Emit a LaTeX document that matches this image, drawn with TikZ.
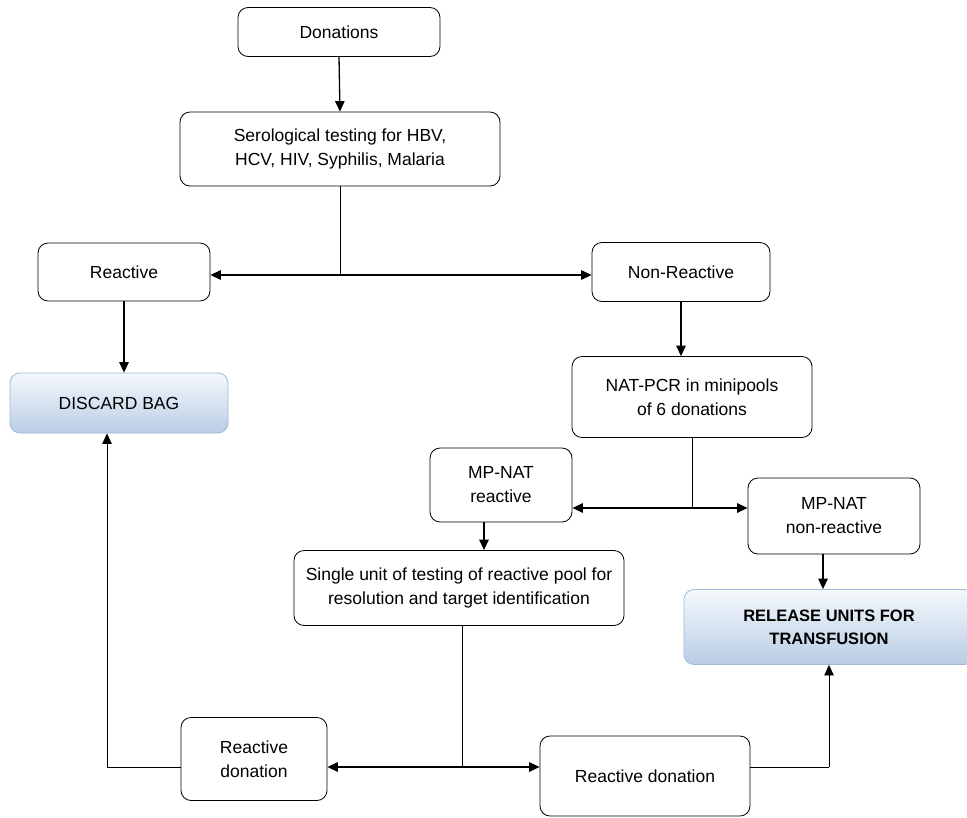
\documentclass[tikz,border=0pt]{standalone}
\usepackage{fontspec}
\setmainfont{Liberation Sans}
\usetikzlibrary{arrows.meta}
\definecolor{gtop}{HTML}{F4F8FC}
\definecolor{gbot}{HTML}{B9CDE5}
\definecolor{gbord}{HTML}{9DB9DB}
\tikzset{
  txt/.style={font=\fontsize{17.5}{24}\selectfont},
  box/.style={draw, rounded corners=10pt, line width=0.8pt, align=center, txt, inner sep=0pt},
  gbox/.style={draw=gbord, rounded corners=10pt, line width=0.8pt, align=center, top color=gtop, bottom color=gbot, txt, inner sep=0pt},
  arr/.style={-{Triangle[length=10.5pt,width=9.5pt]}, line width=1.3pt},
  ln/.style={line width=0.8pt},
}
\begin{document}
\begin{tikzpicture}[x=1pt,y=-1pt]
\useasboundingbox (0,0) rectangle (967,817);
\node[box, minimum width=202pt, minimum height=49pt] (don) at (339,32) {Donations};
\node[box, minimum width=320pt, minimum height=74pt] (ser) at (340,149) {Serological testing for HBV,\\HCV, HIV, Syphilis, Malaria};
\node[box, minimum width=172pt, minimum height=58pt] (rea) at (124,272) {Reactive};
\node[box, minimum width=178pt, minimum height=59pt] (non) at (681,272) {Non-Reactive};
\node[gbox, minimum width=218pt, minimum height=60pt] (dis) at (119,403) {DISCARD BAG};
\node[box, minimum width=240pt, minimum height=81pt] (nat) at (692,397) {NAT-PCR in minipools\\of 6 donations};
\node[box, minimum width=142pt, minimum height=74pt] (mpr) at (501,485) {MP-NAT\\reactive};
\node[box, minimum width=172pt, minimum height=76pt] (mpn) at (834,516) {MP-NAT\\non-reactive};
\node[box, minimum width=330pt, minimum height=75pt] (sin) at (459,588) {Single unit of testing of reactive pool for\\resolution and target identification};
\node[gbox, minimum width=290pt, minimum height=75pt, font=\fontsize{16.5}{23}\selectfont\bfseries] (rel) at (829,627) {RELEASE UNITS FOR\\TRANSFUSION};
\node[box, minimum width=146pt, minimum height=83pt] (rdl) at (254,759) {Reactive\\donation};
\node[box, minimum width=210pt, minimum height=80pt] (rdr) at (645,776) {Reactive donation};

\coordinate (j1) at (340,275);
\coordinate (j2) at (692,508);
\coordinate (j3) at (462,767);
\coordinate (c1) at (107,767);
\coordinate (c2) at (829,767);

\draw[arr] (don.south) -- (ser.north);
\draw[ln] (ser.south -| j1) -- (j1);
\draw[arr] (j1) -- (rea.east |- j1);
\draw[arr] (j1) -- (non.west |- j1);
\draw[arr] (rea.south) -- (dis.north -| rea.south);
\draw[arr] (non.south) -- (nat.north -| non.south);
\draw[ln] (nat.south -| j2) -- (j2);
\draw[arr] (j2) -- (mpr.east |- j2);
\draw[arr] (j2) -- (mpn.west |- j2);
\draw[arr] ([xshift=-17pt]mpr.south) -- ([xshift=-17pt]mpr.south |- sin.north);
\draw[arr] ([xshift=-11pt]mpn.south) -- ([xshift=-11pt]mpn.south |- rel.north);
\draw[ln] (sin.south -| j3) -- (j3);
\draw[arr] (j3) -- (rdl.east |- j3);
\draw[arr] (j3) -- (rdr.west |- j3);
\draw[ln] (rdl.west |- c1) -- (c1);
\draw[arr, line width=0.8pt] (c1) -- (c1 |- dis.south);
\draw[ln] (rdr.east |- c2) -- (c2);
\draw[arr, line width=0.8pt] (c2) -- (c2 |- rel.south);
\end{tikzpicture}
\end{document}
